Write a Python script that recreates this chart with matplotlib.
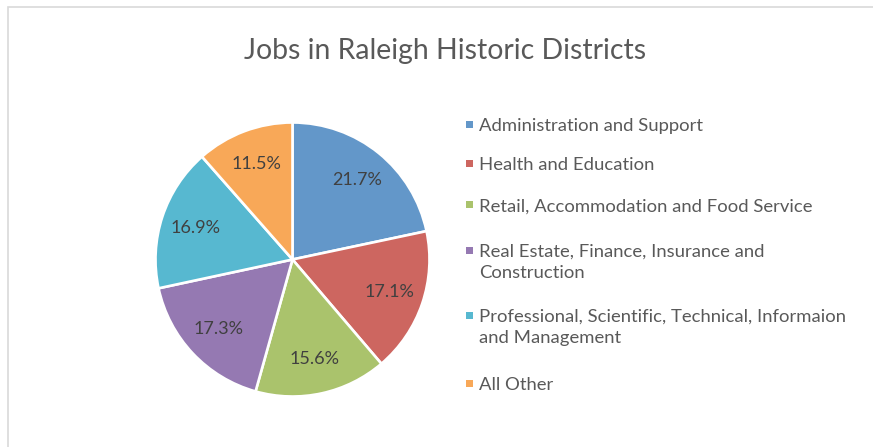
import matplotlib
matplotlib.use("Agg")
import matplotlib.pyplot as plt
from matplotlib.patches import Rectangle

categories = [
    "Administration and Support",
    "Health and Education",
    "Retail, Accommodation and Food Service",
    "Real Estate, Finance, Insurance and\nConstruction",
    "Professional, Scientific, Technical, Informaion\nand Management",
    "All Other",
]
values = [21.7, 17.1, 15.6, 17.3, 16.9, 11.5]
colors = ["#6397C9", "#CD6660", "#AAC36C", "#9579B2", "#57B8D0", "#F8A858"]
title = "Jobs in Raleigh Historic Districts"

W, H = 873, 447
TEXT = "#595959"
FONT = "Lato"

fig = plt.figure(figsize=(W / 100, H / 100), dpi=100)
fig.patch.set_facecolor("white")

# chart border (light gray, open to right/bottom)
fig.add_artist(Rectangle((7.5 / W, -0.1), 1.2, (H - 7) / H + 0.1,
                         transform=fig.transFigure, fill=False,
                         edgecolor="#D9D9D9", linewidth=1.2))

# pie
cx, cy, r = 292.5, 259.5, 137
ax = fig.add_axes([(cx - r) / W, (H - cy - r) / H, 2 * r / W, 2 * r / H])
wedges, texts, autotexts = ax.pie(
    values, colors=colors, startangle=90, counterclock=False,
    autopct=lambda p: f"{p:.1f}%", pctdistance=0.745,
    wedgeprops=dict(edgecolor="white", linewidth=1.9),
    textprops=dict(color="#404040", fontsize=13, family=FONT),
)
ax.set_xlim(-1, 1)
ax.set_ylim(-1, 1)
ax.set_aspect("equal")
ax.axis("off")

# title
fig.text(445.5 / W, 1 - 50.5 / H, title, ha="center", va="center",
         fontsize=20.4, color=TEXT, family=FONT)

# legend (manual, marker aligned with first line)
leg_y = [124, 163, 205, 250, 315, 383]
line_h = 22
for lab, col, y in zip(categories, colors, leg_y):
    fig.add_artist(Rectangle((466 / W, 1 - (y + 3.5) / H), 7 / W, 7 / H,
                             transform=fig.transFigure, facecolor=col,
                             edgecolor="none"))
    for i, line in enumerate(lab.split("\n")):
        fig.text(479 / W, 1 - (y + 1.5 + i * line_h) / H, line, ha="left",
                 va="center", fontsize=13.3, color=TEXT, family=FONT)

fig.savefig("out.png", dpi=100, facecolor="white")
